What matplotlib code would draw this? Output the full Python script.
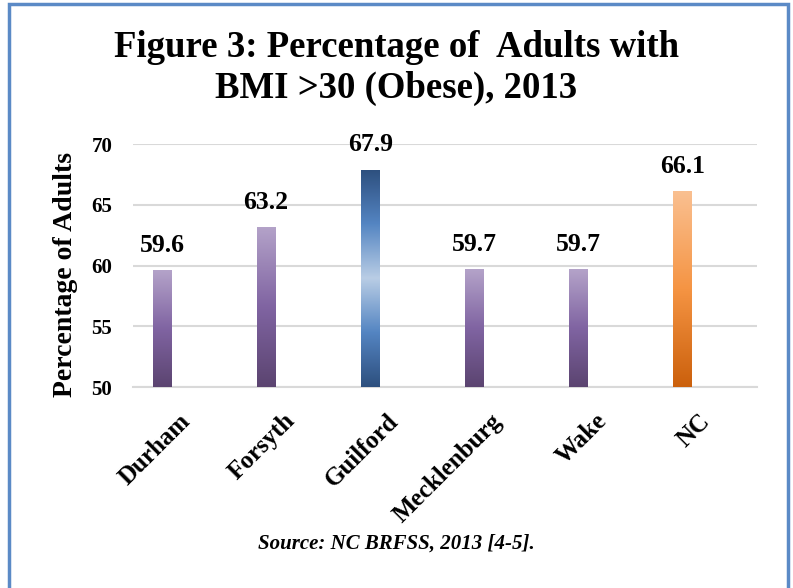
import numpy as np
import matplotlib
matplotlib.use('Agg')
import matplotlib.pyplot as plt
from matplotlib.colors import LinearSegmentedColormap
from matplotlib.patches import Rectangle

plt.rcParams['font.family'] = ['Liberation Serif', 'DejaVu Serif']

categories = ['Durham', 'Forsyth', 'Guilford', 'Mecklenburg', 'Wake', 'NC']
values = [59.6, 63.2, 67.9, 59.7, 59.7, 66.1]
value_labels = ['59.6', '63.2', '67.9', '59.7', '59.7', '66.1']
yticks = [50, 55, 60, 65, 70]

# gradient per bar, listed bottom -> top
purple = ['#5b4470', '#8064a2', '#b4a3c9']
blue = ['#2d4f7e', '#5485c2', '#b9cde5', '#5485c2', '#2d4f7e']
orange = ['#cb600c', '#f59443', '#fac091']
bar_grads = [purple, purple, blue, purple, purple, orange]

fig = plt.figure(figsize=(7.93, 5.88), dpi=100)
ax = fig.add_axes([0.1677, 0.3418, 0.787, 0.4133])

x = np.arange(len(categories))
bars = ax.bar(x - 0.22, np.array(values) - 50, width=0.18, bottom=50,
              facecolor='none', edgecolor='none', zorder=3)

for b, grad in zip(bars, bar_grads):
    cmap = LinearSegmentedColormap.from_list('g', grad)
    bx, by = b.get_x(), b.get_y()
    w, h = b.get_width(), b.get_height()
    img = np.linspace(0, 1, 256).reshape(-1, 1)
    im = ax.imshow(img, cmap=cmap, origin='lower', aspect='auto',
                   extent=[bx, bx + w, by, by + h], zorder=3)
    im.set_clip_path(b)

for b, lab in zip(bars, value_labels):
    ax.annotate(lab, (b.get_x() + b.get_width() / 2, b.get_y() + b.get_height()),
                xytext=(0, 13), textcoords='offset points', ha='center',
                va='baseline', fontsize=18.5, fontweight='bold')

ax.set_xlim(-0.5, 5.5)
ax.set_ylim(50, 70)
ax.set_yticks(yticks)
ax.set_yticklabels([str(t) for t in yticks], fontsize=15, fontweight='bold')
# labels sit slightly left of the category centre
ax.set_xticks(x - 0.06)
ax.set_xticklabels(categories, rotation=45, ha='right', rotation_mode='anchor',
                   fontsize=18, fontweight='bold')
ax.tick_params(axis='both', length=0)
ax.tick_params(axis='y', pad=15)
ax.tick_params(axis='x', pad=16)
ax.grid(axis='y', color='#d9d9d9', linewidth=1.5, zorder=0)
ax.set_axisbelow(True)
for s in ['top', 'right', 'left']:
    ax.spines[s].set_visible(False)
ax.spines['bottom'].set_color('#d9d9d9')
ax.spines['bottom'].set_linewidth(1.5)

ax.set_ylabel('Percentage of Adults', fontsize=20, fontweight='bold')
ax.yaxis.set_label_coords(-0.088, 0.465)

fig.text(0.5, 0.885, 'Figure 3: Percentage of  Adults with\nBMI >30 (Obese), 2013',
         ha='center', va='center', fontsize=26.5, fontweight='bold', linespacing=1.22)
fig.text(0.5, 0.076, 'Source: NC BRFSS, 2013 [4-5].', ha='center', va='center',
         fontsize=15, fontweight='bold', style='italic')

# outer blue frame (open at the bottom, cropped)
fig.patches.append(Rectangle((9 / 793, -0.05), (788 - 9) / 793, 1.05 - 4 / 588,
                             transform=fig.transFigure, fill=False,
                             edgecolor='#5b8ac6', linewidth=2.5))

fig.savefig('out.png', dpi=100)
